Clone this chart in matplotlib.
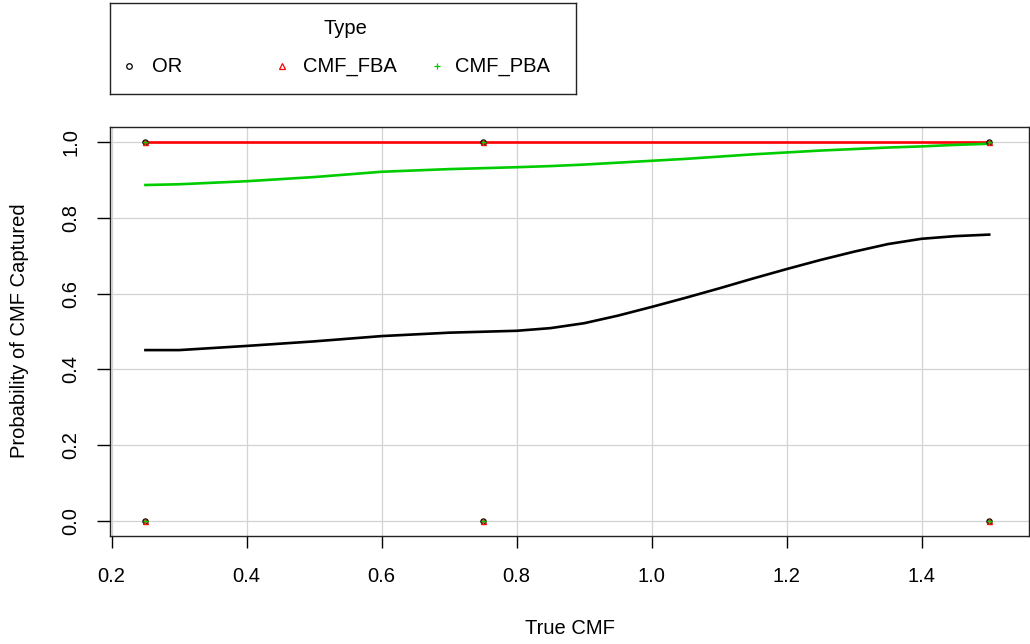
import numpy as np
import matplotlib
matplotlib.use("Agg")
import matplotlib.pyplot as plt

plt.rcParams['font.family'] = ['Liberation Sans', 'DejaVu Sans']

# smoothed curves
true_cmf = [0.25, 0.3, 0.4, 0.5, 0.6, 0.7, 0.8, 0.85, 0.9, 0.95, 1.0, 1.05, 1.1, 1.15,
            1.2, 1.25, 1.3, 1.35, 1.4, 1.45, 1.5]
or_prob = [0.451, 0.451, 0.462, 0.474, 0.488, 0.497, 0.502, 0.509, 0.522, 0.542, 0.565, 0.589,
           0.614, 0.640, 0.665, 0.689, 0.711, 0.731, 0.745, 0.752, 0.756]
fba_prob = [1.0] * len(true_cmf)
pba_prob = [0.887, 0.889, 0.897, 0.908, 0.922, 0.929, 0.934, 0.937, 0.941, 0.946, 0.951, 0.956,
            0.962, 0.968, 0.973, 0.978, 0.982, 0.986, 0.989, 0.993, 0.996]

# observed captured (0/1) outcomes
obs_x = [0.25, 0.25, 0.75, 0.75, 1.5, 1.5]
obs_y = [0, 1, 0, 1, 0, 1]

types = ['OR', 'CMF_FBA', 'CMF_PBA']
colors = {'OR': 'black', 'CMF_FBA': '#FF0000', 'CMF_PBA': '#00CD00'}
markers = {'OR': 'o', 'CMF_FBA': '^', 'CMF_PBA': '+'}
curves = {'OR': or_prob, 'CMF_FBA': fba_prob, 'CMF_PBA': pba_prob}

x_ticks = [0.2, 0.4, 0.6, 0.8, 1.0, 1.2, 1.4]
y_ticks = [0.0, 0.2, 0.4, 0.6, 0.8, 1.0]

W, H = 1030, 644
fig = plt.figure(figsize=(W / 100, H / 100), dpi=100)
ax = fig.add_axes([110 / W, 1 - 536 / H, (1029 - 110) / W, (536 - 126.7) / H])

for t in types:
    ax.plot(obs_x, obs_y, linestyle='none', marker=markers[t], markersize=3.6,
            markerfacecolor='none', markeredgecolor=colors[t], markeredgewidth=1.0, zorder=3)
for t in types:
    ax.plot(true_cmf, curves[t], color=colors[t], linewidth=1.9, zorder=2)

ax.set_xlim(0.1975, 1.559)
ax.set_ylim(-0.04, 1.041)
ax.set_xticks(x_ticks)
ax.set_yticks(y_ticks)
ax.set_xticklabels([f"{v:.1f}" for v in x_ticks])
ax.set_yticklabels([f"{v:.1f}" for v in y_ticks])
ax.grid(True, color='#D3D3D3', linewidth=0.9)
ax.set_axisbelow(True)
for s in ax.spines.values():
    s.set_linewidth(1.0)
    s.set_color('#222222')
ax.tick_params(axis='x', length=8.6, width=1.0, pad=14, labelsize=14.5)
ax.tick_params(axis='y', length=9.4, width=1.0, pad=12, labelsize=14.5, labelrotation=90)
for lab in ax.get_yticklabels():
    lab.set_va('center')

fig.text(569.5 / W, 1 - 628 / H, 'True CMF', ha='center', va='center', fontsize=14.5)
fig.text(20 / W, 1 - 331 / H, 'Probability of CMF Captured', ha='center', va='center',
         rotation=90, fontsize=14.5)

# legend box, laid out in pixel units
lg = fig.add_axes([110 / W, 1 - 94 / H, (576 - 110) / W, (94 - 3) / H])
lg.set_xlim(110, 576)
lg.set_ylim(94, 3)
lg.set_xticks([])
lg.set_yticks([])
for s in lg.spines.values():
    s.set_linewidth(1.0)
    s.set_color('#222222')
lg.text(345, 28, 'Type', ha='center', va='center', fontsize=14.5)
entry_pos = {'OR': (129, 152), 'CMF_FBA': (282, 303), 'CMF_PBA': (437, 455)}
for t in types:
    mx, tx = entry_pos[t]
    lg.plot([mx], [66], linestyle='none', marker=markers[t], markersize=4,
            markerfacecolor='none', markeredgecolor=colors[t], markeredgewidth=0.9)
    lg.text(tx, 66, t, ha='left', va='center', fontsize=14.5)

fig.savefig('out.png', dpi=100)
